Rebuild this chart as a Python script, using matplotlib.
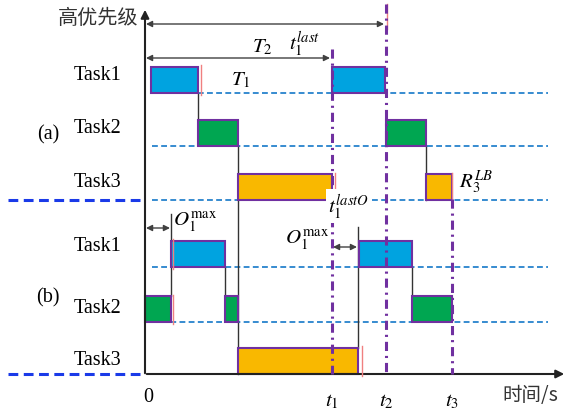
import matplotlib.pyplot as plt

plt.rcParams['font.family'] = 'serif'
plt.rcParams['font.serif'] = ['Liberation Serif', 'DejaVu Serif']
plt.rcParams['mathtext.fontset'] = 'stix'

# time axis: origin at the y-axis, 1 unit ~ 1 px
t_marks = [187, 241, 307]          # t1, t2, t3
t_labels = ['$t_1$', '$t_2$', '$t_3$']

# row baselines (y grows downwards), bar height
rows_a = {'Task1': 94, 'Task2': 147, 'Task3': 201}
rows_b = {'Task1': 268, 'Task2': 323, 'Task3': 375}
bar_h = 26

# segments (task, start, end)
segs_a = [('Task1', 6, 53), ('Task1', 187, 240),
          ('Task2', 53, 93), ('Task2', 241, 281),
          ('Task3', 93, 187), ('Task3', 281, 307)]
segs_b = [('Task1', 26, 80), ('Task1', 214, 267),
          ('Task2', 0, 26), ('Task2', 80, 93), ('Task2', 267, 307),
          ('Task3', 93, 213)]

colors = {'Task1': '#00A3E0', 'Task2': '#00A651', 'Task3': '#F9B800'}
purple = '#7030A0'
dash_blue = '#1478C8'
sep_blue = '#1a3ae8'

fig = plt.figure(figsize=(5.67, 4.10), dpi=100)
ax = fig.add_axes([0, 0, 1, 1])
ax.set_xlim(-145, 422)
ax.set_ylim(410, 0)
ax.axis('off')

# baselines
for rows in (rows_a, rows_b):
    for name, y in rows.items():
        ax.plot([7, 403], [y, y], ls=(0, (3.5, 2)), color=dash_blue, lw=1.2, zorder=1)

# separators on the left
for y in (201, 375):
    ax.plot([-137, -5], [y, y], ls=(0, (3.2, 1.8)), color=sep_blue, lw=2.2, zorder=1)

# bars
for segs, rows in ((segs_a, rows_a), (segs_b, rows_b)):
    for name, s, e in segs:
        y = rows[name]
        ax.add_patch(plt.Rectangle((s, y - bar_h), e - s, bar_h, facecolor=colors[name],
                                   edgecolor=purple, lw=1.5, zorder=3))

# red completion ticks
red_ticks = [(56, 66, 96), (28, 240, 270), (28, 296, 325), (217, 347, 377),
             (190, 174, 202), (307, 174, 202), (242, 5, 30)]
for x, y0, y1 in red_ticks:
    ax.plot([x, x], [y0, y1], color='#F08080', lw=1, zorder=4)

# black connector lines
conns = [(53, 94, 119), (93, 147, 375), (281, 147, 201), (26, 215, 297),
         (80, 268, 297), (213, 228, 349), (267, 268, 297)]
for x, y0, y1 in conns:
    ax.plot([x, x], [y0, y1], color='#333333', lw=1, zorder=2)

# purple dash-dot verticals
vlines = [(187, 50, 375), (241, 5, 375), (307, 200, 375)]
for x, y0, y1 in vlines:
    ax.plot([x, x], [y0, y1], color=purple, lw=2.2, ls=(0, (3, 1.6, 0.7, 1.6)), zorder=5)

# axes
ax.annotate('', xy=(0, 8), xytext=(0, 377),
            arrowprops=dict(arrowstyle='-|>', color='#222222', lw=1.5, mutation_scale=12))
ax.annotate('', xy=(422, 375), xytext=(-1, 375),
            arrowprops=dict(arrowstyle='-|>', color='#222222', lw=1.5, mutation_scale=12))

# period arrows
arrow = dict(arrowstyle='<|-|>', color='#404040', lw=1, mutation_scale=9, shrinkA=0, shrinkB=0)
ax.annotate('', xy=(1, 25), xytext=(239, 25), arrowprops=arrow)
ax.annotate('', xy=(1, 59), xytext=(185, 59), arrowprops=arrow)
ax.annotate('', xy=(1, 229), xytext=(25, 229), arrowprops=arrow)
ax.annotate('', xy=(188, 248), xytext=(212, 248), arrowprops=arrow)

fs = 14.5
ax.text(117, 47, '$T_2$', fontsize=15, ha='center', va='center')
ax.text(160, 44, '$t_1^{last}$', fontsize=15, ha='center', va='center')
ax.text(96, 80, '$T_1$', fontsize=15, ha='center', va='center')
ax.text(50, 222, '$O_1^{\\mathrm{max}}$', fontsize=15, ha='center', va='center')
ax.text(162, 240, '$O_1^{\\mathrm{max}}$', fontsize=15, ha='center', va='center')
ax.text(204, 207, '$t_1^{lastO}$', fontsize=15, ha='center', va='center',
        bbox=dict(facecolor='white', edgecolor='none', pad=2), zorder=6)
ax.text(331, 182, '$R_3^{LB}$', fontsize=15, ha='center', va='center')

# row labels
for name, y in rows_a.items():
    ax.text(-47, y - 18, name, fontsize=fs, ha='center', va='center')
for name, y in rows_b.items():
    ax.text(-47, y - 14 if name != 'Task1' else y - 21, name, fontsize=fs, ha='center', va='center')
ax.text(-97, 135, '(a)', fontsize=fs, ha='center', va='center')
ax.text(-97, 298, '(b)', fontsize=fs, ha='center', va='center')
ax.text(-7, 18, '高优先级', fontsize=14.5, ha='right', va='center', color='#333333',
        family=['Noto Sans CJK SC'])

# time labels
ax.text(3, 398, '0', fontsize=fs, ha='center', va='center')
for x, lab in zip(t_marks, t_labels):
    ax.text(x, 402, lab, fontsize=15, ha='center', va='center')
ax.text(385, 396, '时间/s', fontsize=14, ha='center', va='center', color='#333333',
        family=['Noto Sans CJK SC', 'DejaVu Sans'])

fig.savefig('out.png', dpi=100)
